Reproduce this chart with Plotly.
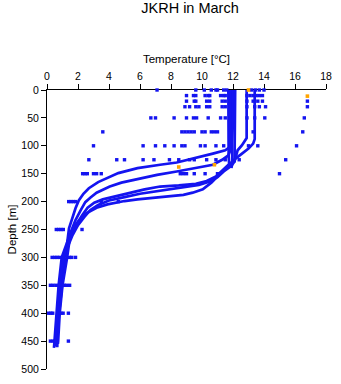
import plotly.graph_objects as go

# ---- CTD profiles (depth m, temperature °C) ----
pa_depth = [0, 60, 100, 108, 114, 121, 130, 134, 140, 149, 158, 165, 176, 186, 198, 212, 230, 248, 275, 300, 330, 360, 400, 430, 461]
pa_temp = [12.0, 12.0, 11.9, 11.5, 10.7, 9.63, 8.37, 7.3, 5.84, 4.6, 3.9, 3.3, 2.7, 2.35, 2.05, 1.84, 1.63, 1.42, 1.3, 1.22, 1.05, 0.92, 0.78, 0.7, 0.66]

pb_depth = [0, 60, 110, 117, 125, 134, 140, 146, 152, 160, 166, 173, 184, 193, 201, 216, 233, 250, 300, 350, 400, 450, 462]
pb_temp = [11.82, 11.82, 11.8, 11.7, 11.3, 10.7, 9.63, 8.37, 7.1, 5.84, 4.8, 4.05, 3.2, 2.79, 2.47, 2.16, 1.84, 1.6, 0.95, 0.75, 0.62, 0.48, 0.45]

pc_depth = [0, 80, 128, 134, 145, 155, 163, 168, 171, 173, 178, 184, 190, 196, 202, 211, 225, 240, 255, 300, 350, 400, 450, 458]
pc_temp = [12.14, 12.14, 12.1, 11.7, 11.3, 10.9, 10.3, 9.6, 8.5, 7.3, 6.3, 5.4, 4.6, 3.6, 3.05, 2.62, 2.26, 1.92, 1.6, 1.1, 0.88, 0.72, 0.6, 0.58]

pd_depth = [0, 88, 96, 105, 114, 123, 134, 146, 158, 166, 178, 184, 188, 190, 193, 196, 199, 201, 205, 211, 215, 222, 234, 245, 260, 300, 350, 400, 450, 455]
pd_temp = [13.4, 13.4, 13.3, 13.0, 12.58, 12.16, 11.74, 11.3, 10.9, 10.6, 10.05, 9.4, 8.8, 7.95, 6.68, 5.84, 5.0, 4.58, 3.9, 3.2, 2.9, 2.47, 2.05, 1.75, 1.5, 1.3, 1.0, 0.82, 0.72, 0.7]

pe_depth = [0, 86, 99, 108, 118, 128, 136, 146, 156, 164, 170, 174, 180, 186, 192, 198, 206, 215, 228, 242, 260, 300, 350, 400, 450, 460]
pe_temp = [12.88, 12.88, 12.58, 12.3, 12.2, 12.1, 11.9, 11.4, 11.0, 10.5, 9.8, 8.8, 7.2, 6.0, 5.0, 4.0, 3.3, 2.8, 2.4, 2.0, 1.65, 1.05, 0.8, 0.68, 0.55, 0.52]

# mixed-layer casts inside the 11.7-12.2 °C band
pf_depth = [0, 70, 120, 132, 138]
pf_temp = [11.7, 11.7, 11.72, 11.75, 11.8]
pg_depth = [0, 70, 120, 132, 140]
pg_temp = [11.92, 11.92, 11.95, 11.95, 11.9]

# ---- bottle samples by standard depth ----
bottle_rows = {
    0: [7.1, 9.6, 10.15, 10.6, 10.9, 11.0, 11.4, 11.6, 13.2, 13.45, 13.7, 14.0],
    10: [9.0, 9.45, 9.6, 10.2, 10.4, 10.5, 11.2, 11.4, 11.5, 12.9, 13.1, 13.3, 13.5, 13.7, 13.9],
    20: [9.0, 9.5, 9.6, 10.3, 10.5, 11.3, 11.5, 12.9, 13.3, 13.6, 13.9, 16.8],
    30: [8.9, 9.2, 9.6, 9.8, 10.3, 10.5, 11.3, 11.5, 12.9, 13.4, 13.7, 14.1, 16.8],
    50: [6.7, 7.0, 8.2, 9.0, 9.45, 9.65, 10.4, 11.2, 11.5, 12.9, 13.4, 14.05, 16.6],
    75: [3.6, 8.7, 8.9, 9.1, 9.3, 9.5, 10.0, 10.2, 10.6, 10.8, 11.0, 13.3, 16.5],
    100: [3.0, 6.2, 7.0, 7.6, 8.2, 8.7, 8.9, 9.9, 10.2, 10.9, 11.4, 13.0, 13.6, 16.1],
    125: [2.7, 4.5, 5.0, 6.2, 6.9, 7.9, 8.5, 9.2, 9.5, 10.3, 10.9, 11.5, 12.4, 15.4],
    150: [2.3, 2.45, 2.6, 3.0, 3.2, 3.5, 8.6, 8.8, 9.0, 9.5, 10.2, 11.0, 15.0],
    200: [1.4, 1.55, 1.7, 1.84, 3.5, 4.6],
    250: [0.6, 0.75, 0.9, 1.05, 2.26],
    300: [0.33, 0.5, 0.65, 0.8, 1.45, 1.6, 1.84],
    350: [0.22, 0.4, 0.6, 1.1, 1.25, 1.46],
    400: [0.11, 0.25, 0.37, 0.9, 1.04, 1.38],
    450: [0.22, 0.4, 0.54, 1.38],
}

# flagged samples (orange)
flag_temp = [13.0, 16.8, 8.5, 10.8]
flag_depth = [0, 11, 138, 134]

x_ticks = [0, 2, 4, 6, 8, 10, 12, 14, 16, 18]
y_ticks = [0, 50, 100, 150, 200, 250, 300, 350, 400, 450, 500]

BLUE = "#1414f0"
ORANGE = "#ffa500"
FONT = "Liberation Sans, Arial, sans-serif"

fig = go.Figure()

for d, t in [(pf_depth, pf_temp), (pg_depth, pg_temp),
             (pa_depth, pa_temp), (pb_depth, pb_temp), (pc_depth, pc_temp),
             (pd_depth, pd_temp), (pe_depth, pe_temp)]:
    fig.add_trace(go.Scatter(x=t, y=d, mode="lines",
                             line=dict(color=BLUE, width=2.7),
                             cliponaxis=False, hoverinfo="skip", showlegend=False))

bx, by = [], []
for depth, temps in bottle_rows.items():
    for t in temps:
        bx.append(t)
        by.append(depth)
fig.add_trace(go.Scatter(x=bx, y=by, mode="markers",
                         marker=dict(symbol="square", size=3.4, color=BLUE, line=dict(width=0)),
                         cliponaxis=False, showlegend=False))
fig.add_trace(go.Scatter(x=flag_temp, y=flag_depth, mode="markers",
                         marker=dict(symbol="square", size=3.6, color=ORANGE, line=dict(width=0)),
                         cliponaxis=False, showlegend=False))

fig.update_layout(
    width=341, height=384,
    margin=dict(l=47, r=9, t=90, b=9),
    paper_bgcolor="white", plot_bgcolor="white",
    font=dict(family=FONT, color="black", size=10),
    title=dict(text="JKRH in March", x=190 / 341, xanchor="center", xref="container",
               y=1, yanchor="top", yref="container", pad=dict(t=3),
               font=dict(size=14.5, family=FONT, color="black")),
    showlegend=False,
)
fig.update_xaxes(
    range=[0, 18], side="top", tickvals=x_ticks, ticktext=[str(v) for v in x_ticks],
    showline=True, linecolor="black", linewidth=1, ticks="outside", ticklen=5,
    tickcolor="black", showgrid=False, zeroline=False, layer="below traces",
    tickfont=dict(size=10.5, family=FONT, color="black"),
    title=dict(text="Temperature [°C]", font=dict(size=11.5, family=FONT, color="black"), standoff=3),
)
fig.update_yaxes(
    range=[500, 0], tickvals=y_ticks, ticktext=[str(v) for v in y_ticks],
    showline=True, linecolor="black", linewidth=1, ticks="outside", ticklen=5,
    tickcolor="black", showgrid=False, zeroline=False, layer="below traces",
    tickfont=dict(size=10.5, family=FONT, color="black"),
    title=dict(text="Depth [m]", font=dict(size=11.5, family=FONT, color="black"), standoff=2),
)

fig.write_html("out.html")
